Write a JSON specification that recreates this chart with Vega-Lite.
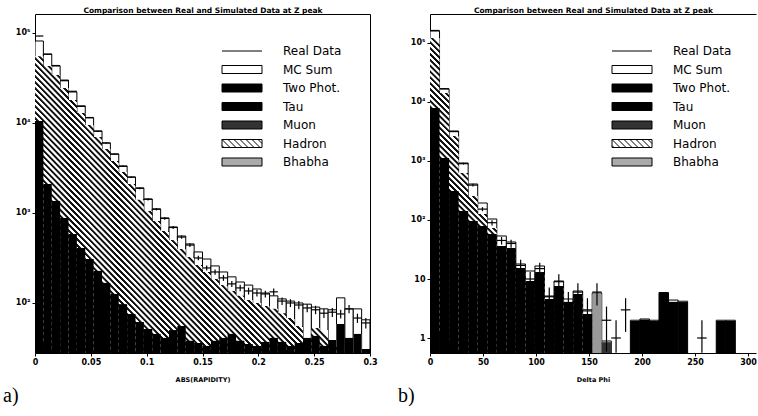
{
"$schema": "https://vega.github.io/schema/vega-lite/v6.json",
"background": "white",
"padding": {"left": 3, "top": 6, "right": 0, "bottom": 0},
"bounds": "flush",
"spacing": 60,
"datasets": {
"a_bins": [
{"x0":0,"x1":0.0075,"mc":81500,"blk":10500,"d":92600,"lo":92300,"hi":92900},
{"x0":0.0075,"x1":0.015,"mc":58400,"blk":2100,"d":58000,"lo":57760,"hi":58240},
{"x0":0.015,"x1":0.0225,"mc":43000,"blk":1360,"d":43500,"lo":43290,"hi":43710},
{"x0":0.0225,"x1":0.03,"mc":30000,"blk":880,"d":29500,"lo":29330,"hi":29670},
{"x0":0.03,"x1":0.0375,"mc":22100,"blk":584,"d":22500,"lo":22350,"hi":22650},
{"x0":0.0375,"x1":0.045,"mc":15500,"blk":409,"d":15300,"lo":15180,"hi":15420},
{"x0":0.045,"x1":0.0525,"mc":11400,"blk":308,"d":11500,"lo":11390,"hi":11610},
{"x0":0.0525,"x1":0.06,"mc":8150,"blk":227,"d":8100,"lo":8010,"hi":8190},
{"x0":0.06,"x1":0.0675,"mc":5990,"blk":167,"d":6000,"lo":5920,"hi":6080},
{"x0":0.0675,"x1":0.075,"mc":4530,"blk":126,"d":4500,"lo":4430,"hi":4570},
{"x0":0.075,"x1":0.0825,"mc":3330,"blk":97,"d":3300,"lo":3240,"hi":3360},
{"x0":0.0825,"x1":0.09,"mc":2510,"blk":75.5,"d":2500,"lo":2450,"hi":2550},
{"x0":0.09,"x1":0.0975,"mc":1900,"blk":61.5,"d":1880,"lo":1840,"hi":1920},
{"x0":0.0975,"x1":0.105,"mc":1430,"blk":51.4,"d":1420,"lo":1380,"hi":1460},
{"x0":0.105,"x1":0.1125,"mc":1110,"blk":45.3,"d":1100,"lo":1070,"hi":1130},
{"x0":0.1125,"x1":0.12,"mc":880,"blk":40.9,"d":870,"lo":840,"hi":900},
{"x0":0.12,"x1":0.1275,"mc":699,"blk":50,"d":690,"lo":664,"hi":716},
{"x0":0.1275,"x1":0.135,"mc":555,"blk":55.5,"d":540,"lo":517,"hi":563},
{"x0":0.135,"x1":0.1425,"mc":453,"blk":38,"d":440,"lo":419,"hi":461},
{"x0":0.1425,"x1":0.15,"mc":369,"blk":35.9,"d":316,"lo":298,"hi":334},
{"x0":0.15,"x1":0.1575,"mc":308,"blk":33.3,"d":245,"lo":229,"hi":261},
{"x0":0.1575,"x1":0.165,"mc":258,"blk":38,"d":221,"lo":206,"hi":236},
{"x0":0.165,"x1":0.1725,"mc":221,"blk":40.9,"d":190,"lo":176,"hi":204},
{"x0":0.1725,"x1":0.18,"mc":195,"blk":45.3,"d":163,"lo":150,"hi":176},
{"x0":0.18,"x1":0.1875,"mc":171,"blk":38,"d":147,"lo":135,"hi":159},
{"x0":0.1875,"x1":0.195,"mc":158,"blk":35,"d":136,"lo":124,"hi":148},
{"x0":0.195,"x1":0.2025,"mc":143,"blk":33.3,"d":129,"lo":118,"hi":140},
{"x0":0.2025,"x1":0.21,"mc":129,"blk":36.9,"d":126,"lo":115,"hi":137},
{"x0":0.21,"x1":0.2175,"mc":120,"blk":40.9,"d":133,"lo":121,"hi":145},
{"x0":0.2175,"x1":0.225,"mc":111,"blk":36.9,"d":105,"lo":95,"hi":115},
{"x0":0.225,"x1":0.2325,"mc":105,"blk":33.3,"d":100,"lo":90,"hi":110},
{"x0":0.2325,"x1":0.24,"mc":100,"blk":35.9,"d":95,"lo":85,"hi":105},
{"x0":0.24,"x1":0.2475,"mc":97,"blk":40.9,"d":88,"lo":79,"hi":97},
{"x0":0.2475,"x1":0.255,"mc":90,"blk":43,"d":84,"lo":75,"hi":93},
{"x0":0.255,"x1":0.2625,"mc":86,"blk":33.3,"d":77,"lo":68,"hi":86},
{"x0":0.2625,"x1":0.27,"mc":84,"blk":38.8,"d":79,"lo":70,"hi":88},
{"x0":0.27,"x1":0.2775,"mc":114,"blk":58.4,"d":75.5,"lo":67,"hi":84},
{"x0":0.2775,"x1":0.285,"mc":86,"blk":40.9,"d":86,"lo":77,"hi":95},
{"x0":0.285,"x1":0.2925,"mc":86,"blk":45.3,"d":68,"lo":60,"hi":76},
{"x0":0.2925,"x1":0.3,"mc":65,"blk":30.8,"d":60,"lo":52,"hi":68}
],
"a_hatch": [
{"x":0,"had":55000},{"x":0.0075,"had":43000},{"x":0.015,"had":34100},{"x":0.0225,"had":24500},
{"x":0.03,"had":18000},{"x":0.0375,"had":12900},{"x":0.045,"had":9500},{"x":0.0525,"had":6990},
{"x":0.06,"had":5140},{"x":0.0675,"had":3790},{"x":0.075,"had":2850},{"x":0.0825,"had":2100},
{"x":0.09,"had":1400},{"x":0.0975,"had":1050},{"x":0.105,"had":815},{"x":0.1125,"had":631},
{"x":0.12,"had":501},{"x":0.1275,"had":398},{"x":0.135,"had":324},{"x":0.1425,"had":264},
{"x":0.15,"had":221},{"x":0.1575,"had":185},{"x":0.165,"had":158},{"x":0.1725,"had":136},
{"x":0.18,"had":120},{"x":0.1875,"had":108},{"x":0.195,"had":100},{"x":0.2025,"had":92.6},
{"x":0.21,"had":86},{"x":0.2175,"had":77},{"x":0.225,"had":68},{"x":0.2325,"had":55.5},
{"x":0.24,"had":38},{"x":0.2475,"had":52.7},{"x":0.255,"had":50},{"x":0.2625,"had":38.8},
{"x":0.27,"had":58.4},{"x":0.2775,"had":40.9},{"x":0.285,"had":45.3},{"x":0.2925,"had":30.8},
{"x":0.3,"had":30.8}
],
"b_bins": [
{"x0":0,"x1":9,"mc":159700,"blk":7913,"d":163000,"lo":162600,"hi":163400},
{"x0":9,"x1":18,"mc":16610,"blk":1124,"d":16800,"lo":16670,"hi":16930},
{"x0":18,"x1":27,"mc":3225,"blk":310,"d":3150,"lo":3094,"hi":3206},
{"x0":27,"x1":36,"mc":925,"blk":142,"d":900,"lo":870,"hi":930},
{"x0":36,"x1":45,"mc":407.6,"blk":96.2,"d":390,"lo":370,"hi":410},
{"x0":45,"x1":54,"mc":194.1,"blk":79.1,"d":153,"lo":141,"hi":165},
{"x0":54,"x1":63,"mc":104,"blk":57.9,"d":90,"lo":80.5,"hi":99.5},
{"x0":63,"x1":72,"mc":53.6,"blk":36.2,"d":45,"lo":38.3,"hi":51.7},
{"x0":72,"x1":81,"mc":42.4,"blk":33.5,"d":40,"lo":33.7,"hi":46.3},
{"x0":81,"x1":90,"mc":17.96,"blk":15.4,"d":17,"lo":12.9,"hi":21.1},
{"x0":90,"x1":99,"mc":13.67,"blk":9.25,"d":10,"lo":6.8,"hi":13.2},
{"x0":99,"x1":108,"mc":16.61,"blk":13.1,"d":15,"lo":11.1,"hi":18.9},
{"x0":108,"x1":117,"mc":5.15,"blk":4.58,"d":5,"lo":2.8,"hi":7.2},
{"x0":117,"x1":126,"mc":9.25,"blk":7.61,"d":9,"lo":6,"hi":12},
{"x0":126,"x1":135,"mc":4.58,"blk":4.07,"d":4,"lo":2,"hi":6},
{"x0":135,"x1":144,"mc":6.26,"blk":5.57,"d":6,"lo":3.55,"hi":8.45},
{"x0":144,"x1":153,"mc":2.87,"blk":2.55,"d":3,"lo":1.27,"hi":4.73},
{"x0":153,"x1":162,"mc":5.79,"bha":5.6,"d":6,"lo":3.55,"hi":8.45},
{"x0":162,"x1":171,"mc":0.89,"muo":0.85,"d":2,"lo":0.59,"hi":3.41},
{"x0":171,"x1":180,"d":1,"lo":0.56,"hi":2},
{"x0":180,"x1":189,"d":3,"lo":1.27,"hi":4.73},
{"x0":189,"x1":198,"mc":2.0,"blk":1.94},
{"x0":198,"x1":207,"mc":2.1,"blk":2.05},
{"x0":207,"x1":216,"mc":2.0,"blk":1.94},
{"x0":216,"x1":225,"mc":5.9,"blk":5.79},
{"x0":225,"x1":234,"mc":4.4,"blk":4.1},
{"x0":234,"x1":243,"mc":4.2,"blk":4.07},
{"x0":252,"x1":261,"d":1,"lo":0.56,"hi":2},
{"x0":270,"x1":279,"mc":2.0,"blk":1.94},
{"x0":279,"x1":288,"mc":2.0,"blk":1.94}
],
"b_hatch": [
{"x":0,"had":121500},{"x":9,"had":14210},{"x":18,"had":2653},{"x":27,"had":626},
{"x":36,"had":255},{"x":45,"had":126.4},{"x":54,"had":73.2},{"x":63,"had":36.2},
{"x":72,"had":33.5},{"x":81,"had":15.4},{"x":90,"had":9.25},{"x":99,"had":13.1},
{"x":108,"had":4.58},{"x":117,"had":7.61},{"x":126,"had":4.07},{"x":135,"had":5.57},
{"x":144,"had":2.55},{"x":153,"had":2.55}
],
"legend_rows": [{"s":"Real Data"}]
},
"hconcat": [
{
"width": 335, "height": 339,
"title": {"text": "a)", "orient": "bottom", "anchor": "start", "frame": "group", "dx": -32, "offset": 3},
"resolve": {"axis": {"x": "independent", "y": "independent"}},
"layer": [
{"data": {"name": "a_bins"},
 "mark": {"type": "bar", "fill": "#fff", "stroke": "#000", "strokeWidth": 1, "clip": true},
 "encoding": {
  "x": {"field": "x0", "type": "quantitative", "scale": {"domain": [0, 0.3], "nice": false, "zero": false},
        "axis": {"orient": "bottom", "values": [0, 0.05, 0.1, 0.15, 0.2, 0.25, 0.3], "format": "~g", "title": "ABS(RAPIDITY)", "titlePadding": 10, "labelFlush": false, "labelOverlap": false}},
  "x2": {"field": "x1"},
  "y": {"field": "mc", "type": "quantitative", "scale": {"type": "log", "domain": [27.8, 162600], "nice": false},
        "axis": {"orient": "left", "values": [100, 1000, 10000, 100000], "title": null,
                 "labelExpr": "datum.value >= 99999 ? '10⁵' : datum.value >= 9999 ? '10⁴' : datum.value >= 999 ? '10³' : datum.value >= 99 ? '10²' : datum.value >= 9 ? '10' : '1'"}},
  "y2": {"datum": 27.8}
 }},
{"data": {"name": "a_hatch"},
 "mark": {"type": "area", "interpolate": "step-after", "clip": true,
  "fill": {"gradient": "linear", "x1": 0.03, "y1": 0.974, "x2": 0.53, "y2": 0.541, "stops": [
{"offset":0,"color":"#111"},{"offset":0.007,"color":"#111"},{"offset":0.01,"color":"#fff"},{"offset":0.018,"color":"#fff"},
{"offset":0.02,"color":"#111"},{"offset":0.027,"color":"#111"},{"offset":0.03,"color":"#fff"},{"offset":0.038,"color":"#fff"},
{"offset":0.04,"color":"#111"},{"offset":0.047,"color":"#111"},{"offset":0.05,"color":"#fff"},{"offset":0.058,"color":"#fff"},
{"offset":0.06,"color":"#111"},{"offset":0.067,"color":"#111"},{"offset":0.07,"color":"#fff"},{"offset":0.078,"color":"#fff"},
{"offset":0.08,"color":"#111"},{"offset":0.087,"color":"#111"},{"offset":0.09,"color":"#fff"},{"offset":0.098,"color":"#fff"},
{"offset":0.1,"color":"#111"},{"offset":0.107,"color":"#111"},{"offset":0.11,"color":"#fff"},{"offset":0.118,"color":"#fff"},
{"offset":0.12,"color":"#111"},{"offset":0.127,"color":"#111"},{"offset":0.13,"color":"#fff"},{"offset":0.138,"color":"#fff"},
{"offset":0.14,"color":"#111"},{"offset":0.147,"color":"#111"},{"offset":0.15,"color":"#fff"},{"offset":0.158,"color":"#fff"},
{"offset":0.16,"color":"#111"},{"offset":0.167,"color":"#111"},{"offset":0.17,"color":"#fff"},{"offset":0.178,"color":"#fff"},
{"offset":0.18,"color":"#111"},{"offset":0.187,"color":"#111"},{"offset":0.19,"color":"#fff"},{"offset":0.198,"color":"#fff"},
{"offset":0.2,"color":"#111"},{"offset":0.207,"color":"#111"},{"offset":0.21,"color":"#fff"},{"offset":0.218,"color":"#fff"},
{"offset":0.22,"color":"#111"},{"offset":0.227,"color":"#111"},{"offset":0.23,"color":"#fff"},{"offset":0.238,"color":"#fff"},
{"offset":0.24,"color":"#111"},{"offset":0.247,"color":"#111"},{"offset":0.25,"color":"#fff"},{"offset":0.258,"color":"#fff"},
{"offset":0.26,"color":"#111"},{"offset":0.267,"color":"#111"},{"offset":0.27,"color":"#fff"},{"offset":0.278,"color":"#fff"},
{"offset":0.28,"color":"#111"},{"offset":0.287,"color":"#111"},{"offset":0.29,"color":"#fff"},{"offset":0.298,"color":"#fff"},
{"offset":0.3,"color":"#111"},{"offset":0.307,"color":"#111"},{"offset":0.31,"color":"#fff"},{"offset":0.318,"color":"#fff"},
{"offset":0.32,"color":"#111"},{"offset":0.327,"color":"#111"},{"offset":0.33,"color":"#fff"},{"offset":0.338,"color":"#fff"},
{"offset":0.34,"color":"#111"},{"offset":0.347,"color":"#111"},{"offset":0.35,"color":"#fff"},{"offset":0.358,"color":"#fff"},
{"offset":0.36,"color":"#111"},{"offset":0.367,"color":"#111"},{"offset":0.37,"color":"#fff"},{"offset":0.378,"color":"#fff"},
{"offset":0.38,"color":"#111"},{"offset":0.387,"color":"#111"},{"offset":0.39,"color":"#fff"},{"offset":0.398,"color":"#fff"},
{"offset":0.4,"color":"#111"},{"offset":0.407,"color":"#111"},{"offset":0.41,"color":"#fff"},{"offset":0.418,"color":"#fff"},
{"offset":0.42,"color":"#111"},{"offset":0.427,"color":"#111"},{"offset":0.43,"color":"#fff"},{"offset":0.438,"color":"#fff"},
{"offset":0.44,"color":"#111"},{"offset":0.447,"color":"#111"},{"offset":0.45,"color":"#fff"},{"offset":0.458,"color":"#fff"},
{"offset":0.46,"color":"#111"},{"offset":0.467,"color":"#111"},{"offset":0.47,"color":"#fff"},{"offset":0.478,"color":"#fff"},
{"offset":0.48,"color":"#111"},{"offset":0.487,"color":"#111"},{"offset":0.49,"color":"#fff"},{"offset":0.498,"color":"#fff"},
{"offset":0.5,"color":"#111"},{"offset":0.507,"color":"#111"},{"offset":0.51,"color":"#fff"},{"offset":0.518,"color":"#fff"},
{"offset":0.52,"color":"#111"},{"offset":0.527,"color":"#111"},{"offset":0.53,"color":"#fff"},{"offset":0.538,"color":"#fff"},
{"offset":0.54,"color":"#111"},{"offset":0.547,"color":"#111"},{"offset":0.55,"color":"#fff"},{"offset":0.558,"color":"#fff"},
{"offset":0.56,"color":"#111"},{"offset":0.567,"color":"#111"},{"offset":0.57,"color":"#fff"},{"offset":0.578,"color":"#fff"},
{"offset":0.58,"color":"#111"},{"offset":0.587,"color":"#111"},{"offset":0.59,"color":"#fff"},{"offset":0.598,"color":"#fff"},
{"offset":0.6,"color":"#111"},{"offset":0.607,"color":"#111"},{"offset":0.61,"color":"#fff"},{"offset":0.618,"color":"#fff"},
{"offset":0.62,"color":"#111"},{"offset":0.627,"color":"#111"},{"offset":0.63,"color":"#fff"},{"offset":0.638,"color":"#fff"},
{"offset":0.64,"color":"#111"},{"offset":0.647,"color":"#111"},{"offset":0.65,"color":"#fff"},{"offset":0.658,"color":"#fff"},
{"offset":0.66,"color":"#111"},{"offset":0.667,"color":"#111"},{"offset":0.67,"color":"#fff"},{"offset":0.678,"color":"#fff"},
{"offset":0.68,"color":"#111"},{"offset":0.687,"color":"#111"},{"offset":0.69,"color":"#fff"},{"offset":0.698,"color":"#fff"},
{"offset":0.7,"color":"#111"},{"offset":0.707,"color":"#111"},{"offset":0.71,"color":"#fff"},{"offset":0.718,"color":"#fff"},
{"offset":0.72,"color":"#111"},{"offset":0.727,"color":"#111"},{"offset":0.73,"color":"#fff"},{"offset":0.738,"color":"#fff"},
{"offset":0.74,"color":"#111"},{"offset":0.747,"color":"#111"},{"offset":0.75,"color":"#fff"},{"offset":0.758,"color":"#fff"},
{"offset":0.76,"color":"#111"},{"offset":0.767,"color":"#111"},{"offset":0.77,"color":"#fff"},{"offset":0.778,"color":"#fff"},
{"offset":0.78,"color":"#111"},{"offset":0.787,"color":"#111"},{"offset":0.79,"color":"#fff"},{"offset":0.798,"color":"#fff"},
{"offset":0.8,"color":"#111"},{"offset":0.807,"color":"#111"},{"offset":0.81,"color":"#fff"},{"offset":0.818,"color":"#fff"},
{"offset":0.82,"color":"#111"},{"offset":0.827,"color":"#111"},{"offset":0.83,"color":"#fff"},{"offset":0.838,"color":"#fff"},
{"offset":0.84,"color":"#111"},{"offset":0.847,"color":"#111"},{"offset":0.85,"color":"#fff"},{"offset":0.858,"color":"#fff"},
{"offset":0.86,"color":"#111"},{"offset":0.867,"color":"#111"},{"offset":0.87,"color":"#fff"},{"offset":0.878,"color":"#fff"},
{"offset":0.88,"color":"#111"},{"offset":0.887,"color":"#111"},{"offset":0.89,"color":"#fff"},{"offset":0.898,"color":"#fff"},
{"offset":0.9,"color":"#111"},{"offset":0.907,"color":"#111"},{"offset":0.91,"color":"#fff"},{"offset":0.918,"color":"#fff"},
{"offset":0.92,"color":"#111"},{"offset":0.927,"color":"#111"},{"offset":0.93,"color":"#fff"},{"offset":0.938,"color":"#fff"},
{"offset":0.94,"color":"#111"},{"offset":0.947,"color":"#111"},{"offset":0.95,"color":"#fff"},{"offset":0.958,"color":"#fff"},
{"offset":0.96,"color":"#111"},{"offset":0.967,"color":"#111"},{"offset":0.97,"color":"#fff"},{"offset":0.978,"color":"#fff"},
{"offset":0.98,"color":"#111"},{"offset":0.987,"color":"#111"},{"offset":0.99,"color":"#fff"},{"offset":1,"color":"#fff"}
  ]}},
 "encoding": {
  "x": {"field": "x", "type": "quantitative", "scale": {"domain": [0, 0.3], "nice": false, "zero": false},
        "axis": {"orient": "top", "labels": false, "ticks": false, "title": "Comparison between Real and Simulated Data at Z peak", "titleFontSize": 7.5, "titlePadding": 0}},
  "y": {"field": "had", "type": "quantitative", "axis": {"orient": "right", "labels": false, "ticks": false, "title": null}},
  "y2": {"datum": 27.8}
 }},
{"data": {"name": "a_bins"},
 "mark": {"type": "bar", "fill": "#000", "clip": true},
 "encoding": {
  "x": {"field": "x0", "type": "quantitative", "axis": null},
  "x2": {"field": "x1"},
  "y": {"field": "blk", "type": "quantitative", "axis": null},
  "y2": {"datum": 27.8}
 }},
{"data": {"name": "a_bins"},
 "mark": {"type": "rule", "stroke": "#000", "strokeWidth": 1.2, "clip": true},
 "encoding": {
  "x": {"field": "x0", "type": "quantitative", "axis": null},
  "x2": {"field": "x1"},
  "y": {"field": "d", "type": "quantitative", "axis": null}
 }},
{"data": {"name": "a_bins"},
 "mark": {"type": "rule", "stroke": "#000", "strokeWidth": 1.2, "xOffset": 4.19, "clip": true},
 "encoding": {
  "x": {"field": "x0", "type": "quantitative", "axis": null},
  "y": {"field": "lo", "type": "quantitative", "axis": null},
  "y2": {"field": "hi"}
 }},
{"data": {"name": "legend_rows"},
 "transform": [{"filter": "false"}],
 "mark": {"type": "point", "filled": true, "size": 64, "opacity": 1, "strokeWidth": 1},
 "encoding": {
  "fill": {"field": "s", "type": "nominal",
   "scale": {"domain": ["Real Data", "MC Sum", "Two Phot.", "Tau", "Muon", "Hadron", "Bhabha"],
             "range": ["transparent", "#fff", "#000", "#000", "#333", "#fff", "#aaa"]},
   "legend": {"orient": "none", "legendX": 201, "legendY": 31, "title": null}},
  "stroke": {"field": "s", "type": "nominal",
   "scale": {"domain": ["Real Data", "MC Sum", "Two Phot.", "Tau", "Muon", "Hadron", "Bhabha"],
             "range": ["#000", "#000", "#000", "#000", "#000", "#000", "#000"]},
   "legend": {"orient": "none", "legendX": 201, "legendY": 31, "title": null}},
  "shape": {"field": "s", "type": "nominal",
   "scale": {"domain": ["Real Data", "MC Sum", "Two Phot.", "Tau", "Muon", "Hadron", "Bhabha"],
             "range": ["M-5,0H5", "M-5,-1H5V1H-5Z", "M-5,-1H5V1H-5Z", "M-5,-1H5V1H-5Z", "M-5,-1H5V1H-5Z",
                       "M-5,-1H5V1H-5Z M-5,0.5L-4.5,1 M-5,-1L-3,1 M-3.5,-1L-1.5,1 M-2,-1L0,1 M-0.5,-1L1.5,1 M1,-1L3,1 M2.5,-1L4.5,1 M4,-1L5,0",
                       "M-5,-1H5V1H-5Z"]},
   "legend": {"orient": "none", "legendX": 201, "legendY": 31, "title": null}}
 }}
]
},
{
"width": 326, "height": 339,
"title": {"text": "b)", "orient": "bottom", "anchor": "start", "frame": "group", "dx": -32, "offset": 3},
"resolve": {"axis": {"x": "independent", "y": "independent"}},
"layer": [
{"data": {"name": "b_bins"},
 "mark": {"type": "bar", "fill": "#fff", "stroke": "#000", "strokeWidth": 1, "clip": true},
 "encoding": {
  "x": {"field": "x0", "type": "quantitative", "scale": {"domain": [0, 307.5], "nice": false, "zero": false},
        "axis": {"orient": "bottom", "values": [0, 50, 100, 150, 200, 250, 300], "format": "d", "title": "Delta Phi", "titlePadding": 10, "labelFlush": false, "labelOverlap": false}},
  "x2": {"field": "x1"},
  "y": {"field": "mc", "type": "quantitative", "scale": {"type": "log", "domain": [0.557, 310000], "nice": false},
        "axis": {"orient": "left", "values": [1, 10, 100, 1000, 10000, 100000], "title": null,
                 "labelExpr": "datum.value >= 99999 ? '10⁵' : datum.value >= 9999 ? '10⁴' : datum.value >= 999 ? '10³' : datum.value >= 99 ? '10²' : datum.value >= 9 ? '10' : '1'"}},
  "y2": {"datum": 0.557}
 }},
{"data": {"name": "b_hatch"},
 "mark": {"type": "area", "interpolate": "step-after", "clip": true,
  "fill": {"gradient": "linear", "x1": 0.038, "y1": 0.927, "x2": 0.415, "y2": 0.193, "stops": [
{"offset":0,"color":"#111"},{"offset":0.007,"color":"#111"},{"offset":0.01,"color":"#fff"},{"offset":0.018,"color":"#fff"},
{"offset":0.02,"color":"#111"},{"offset":0.027,"color":"#111"},{"offset":0.03,"color":"#fff"},{"offset":0.038,"color":"#fff"},
{"offset":0.04,"color":"#111"},{"offset":0.047,"color":"#111"},{"offset":0.05,"color":"#fff"},{"offset":0.058,"color":"#fff"},
{"offset":0.06,"color":"#111"},{"offset":0.067,"color":"#111"},{"offset":0.07,"color":"#fff"},{"offset":0.078,"color":"#fff"},
{"offset":0.08,"color":"#111"},{"offset":0.087,"color":"#111"},{"offset":0.09,"color":"#fff"},{"offset":0.098,"color":"#fff"},
{"offset":0.1,"color":"#111"},{"offset":0.107,"color":"#111"},{"offset":0.11,"color":"#fff"},{"offset":0.118,"color":"#fff"},
{"offset":0.12,"color":"#111"},{"offset":0.127,"color":"#111"},{"offset":0.13,"color":"#fff"},{"offset":0.138,"color":"#fff"},
{"offset":0.14,"color":"#111"},{"offset":0.147,"color":"#111"},{"offset":0.15,"color":"#fff"},{"offset":0.158,"color":"#fff"},
{"offset":0.16,"color":"#111"},{"offset":0.167,"color":"#111"},{"offset":0.17,"color":"#fff"},{"offset":0.178,"color":"#fff"},
{"offset":0.18,"color":"#111"},{"offset":0.187,"color":"#111"},{"offset":0.19,"color":"#fff"},{"offset":0.198,"color":"#fff"},
{"offset":0.2,"color":"#111"},{"offset":0.207,"color":"#111"},{"offset":0.21,"color":"#fff"},{"offset":0.218,"color":"#fff"},
{"offset":0.22,"color":"#111"},{"offset":0.227,"color":"#111"},{"offset":0.23,"color":"#fff"},{"offset":0.238,"color":"#fff"},
{"offset":0.24,"color":"#111"},{"offset":0.247,"color":"#111"},{"offset":0.25,"color":"#fff"},{"offset":0.258,"color":"#fff"},
{"offset":0.26,"color":"#111"},{"offset":0.267,"color":"#111"},{"offset":0.27,"color":"#fff"},{"offset":0.278,"color":"#fff"},
{"offset":0.28,"color":"#111"},{"offset":0.287,"color":"#111"},{"offset":0.29,"color":"#fff"},{"offset":0.298,"color":"#fff"},
{"offset":0.3,"color":"#111"},{"offset":0.307,"color":"#111"},{"offset":0.31,"color":"#fff"},{"offset":0.318,"color":"#fff"},
{"offset":0.32,"color":"#111"},{"offset":0.327,"color":"#111"},{"offset":0.33,"color":"#fff"},{"offset":0.338,"color":"#fff"},
{"offset":0.34,"color":"#111"},{"offset":0.347,"color":"#111"},{"offset":0.35,"color":"#fff"},{"offset":0.358,"color":"#fff"},
{"offset":0.36,"color":"#111"},{"offset":0.367,"color":"#111"},{"offset":0.37,"color":"#fff"},{"offset":0.378,"color":"#fff"},
{"offset":0.38,"color":"#111"},{"offset":0.387,"color":"#111"},{"offset":0.39,"color":"#fff"},{"offset":0.398,"color":"#fff"},
{"offset":0.4,"color":"#111"},{"offset":0.407,"color":"#111"},{"offset":0.41,"color":"#fff"},{"offset":0.418,"color":"#fff"},
{"offset":0.42,"color":"#111"},{"offset":0.427,"color":"#111"},{"offset":0.43,"color":"#fff"},{"offset":0.438,"color":"#fff"},
{"offset":0.44,"color":"#111"},{"offset":0.447,"color":"#111"},{"offset":0.45,"color":"#fff"},{"offset":0.458,"color":"#fff"},
{"offset":0.46,"color":"#111"},{"offset":0.467,"color":"#111"},{"offset":0.47,"color":"#fff"},{"offset":0.478,"color":"#fff"},
{"offset":0.48,"color":"#111"},{"offset":0.487,"color":"#111"},{"offset":0.49,"color":"#fff"},{"offset":0.498,"color":"#fff"},
{"offset":0.5,"color":"#111"},{"offset":0.507,"color":"#111"},{"offset":0.51,"color":"#fff"},{"offset":0.518,"color":"#fff"},
{"offset":0.52,"color":"#111"},{"offset":0.527,"color":"#111"},{"offset":0.53,"color":"#fff"},{"offset":0.538,"color":"#fff"},
{"offset":0.54,"color":"#111"},{"offset":0.547,"color":"#111"},{"offset":0.55,"color":"#fff"},{"offset":0.558,"color":"#fff"},
{"offset":0.56,"color":"#111"},{"offset":0.567,"color":"#111"},{"offset":0.57,"color":"#fff"},{"offset":0.578,"color":"#fff"},
{"offset":0.58,"color":"#111"},{"offset":0.587,"color":"#111"},{"offset":0.59,"color":"#fff"},{"offset":0.598,"color":"#fff"},
{"offset":0.6,"color":"#111"},{"offset":0.607,"color":"#111"},{"offset":0.61,"color":"#fff"},{"offset":0.618,"color":"#fff"},
{"offset":0.62,"color":"#111"},{"offset":0.627,"color":"#111"},{"offset":0.63,"color":"#fff"},{"offset":0.638,"color":"#fff"},
{"offset":0.64,"color":"#111"},{"offset":0.647,"color":"#111"},{"offset":0.65,"color":"#fff"},{"offset":0.658,"color":"#fff"},
{"offset":0.66,"color":"#111"},{"offset":0.667,"color":"#111"},{"offset":0.67,"color":"#fff"},{"offset":0.678,"color":"#fff"},
{"offset":0.68,"color":"#111"},{"offset":0.687,"color":"#111"},{"offset":0.69,"color":"#fff"},{"offset":0.698,"color":"#fff"},
{"offset":0.7,"color":"#111"},{"offset":0.707,"color":"#111"},{"offset":0.71,"color":"#fff"},{"offset":0.718,"color":"#fff"},
{"offset":0.72,"color":"#111"},{"offset":0.727,"color":"#111"},{"offset":0.73,"color":"#fff"},{"offset":0.738,"color":"#fff"},
{"offset":0.74,"color":"#111"},{"offset":0.747,"color":"#111"},{"offset":0.75,"color":"#fff"},{"offset":0.758,"color":"#fff"},
{"offset":0.76,"color":"#111"},{"offset":0.767,"color":"#111"},{"offset":0.77,"color":"#fff"},{"offset":0.778,"color":"#fff"},
{"offset":0.78,"color":"#111"},{"offset":0.787,"color":"#111"},{"offset":0.79,"color":"#fff"},{"offset":0.798,"color":"#fff"},
{"offset":0.8,"color":"#111"},{"offset":0.807,"color":"#111"},{"offset":0.81,"color":"#fff"},{"offset":0.818,"color":"#fff"},
{"offset":0.82,"color":"#111"},{"offset":0.827,"color":"#111"},{"offset":0.83,"color":"#fff"},{"offset":0.838,"color":"#fff"},
{"offset":0.84,"color":"#111"},{"offset":0.847,"color":"#111"},{"offset":0.85,"color":"#fff"},{"offset":0.858,"color":"#fff"},
{"offset":0.86,"color":"#111"},{"offset":0.867,"color":"#111"},{"offset":0.87,"color":"#fff"},{"offset":0.878,"color":"#fff"},
{"offset":0.88,"color":"#111"},{"offset":0.887,"color":"#111"},{"offset":0.89,"color":"#fff"},{"offset":0.898,"color":"#fff"},
{"offset":0.9,"color":"#111"},{"offset":0.907,"color":"#111"},{"offset":0.91,"color":"#fff"},{"offset":0.918,"color":"#fff"},
{"offset":0.92,"color":"#111"},{"offset":0.927,"color":"#111"},{"offset":0.93,"color":"#fff"},{"offset":0.938,"color":"#fff"},
{"offset":0.94,"color":"#111"},{"offset":0.947,"color":"#111"},{"offset":0.95,"color":"#fff"},{"offset":0.958,"color":"#fff"},
{"offset":0.96,"color":"#111"},{"offset":0.967,"color":"#111"},{"offset":0.97,"color":"#fff"},{"offset":0.978,"color":"#fff"},
{"offset":0.98,"color":"#111"},{"offset":0.987,"color":"#111"},{"offset":0.99,"color":"#fff"},{"offset":1,"color":"#fff"}
  ]}},
 "encoding": {
  "x": {"field": "x", "type": "quantitative", "scale": {"domain": [0, 307.5], "nice": false, "zero": false},
        "axis": {"orient": "top", "labels": false, "ticks": false, "title": "Comparison between Real and Simulated Data at Z peak", "titleFontSize": 7.5, "titlePadding": 0}},
  "y": {"field": "had", "type": "quantitative", "axis": null},
  "y2": {"datum": 0.557}
 }},
{"data": {"name": "b_bins"},
 "mark": {"type": "bar", "fill": "#999", "clip": true},
 "encoding": {
  "x": {"field": "x0", "type": "quantitative", "axis": null},
  "x2": {"field": "x1"},
  "y": {"field": "bha", "type": "quantitative", "axis": null},
  "y2": {"datum": 0.557}
 }},
{"data": {"name": "b_bins"},
 "mark": {"type": "bar", "fill": "#333", "clip": true},
 "encoding": {
  "x": {"field": "x0", "type": "quantitative", "axis": null},
  "x2": {"field": "x1"},
  "y": {"field": "muo", "type": "quantitative", "axis": null},
  "y2": {"datum": 0.557}
 }},
{"data": {"name": "b_bins"},
 "mark": {"type": "bar", "fill": "#000", "clip": true},
 "encoding": {
  "x": {"field": "x0", "type": "quantitative", "axis": null},
  "x2": {"field": "x1"},
  "y": {"field": "blk", "type": "quantitative", "axis": null},
  "y2": {"datum": 0.557}
 }},
{"data": {"name": "b_bins"},
 "mark": {"type": "rule", "stroke": "#000", "strokeWidth": 1.2, "clip": true},
 "encoding": {
  "x": {"field": "x0", "type": "quantitative", "axis": null},
  "x2": {"field": "x1"},
  "y": {"field": "d", "type": "quantitative", "axis": null}
 }},
{"data": {"name": "b_bins"},
 "mark": {"type": "rule", "stroke": "#000", "strokeWidth": 1.2, "xOffset": 4.77, "clip": true},
 "encoding": {
  "x": {"field": "x0", "type": "quantitative", "axis": null},
  "y": {"field": "lo", "type": "quantitative", "axis": null},
  "y2": {"field": "hi"}
 }},
{"data": {"name": "legend_rows"},
 "transform": [{"filter": "false"}],
 "mark": {"type": "point", "filled": true, "size": 64, "opacity": 1, "strokeWidth": 1},
 "encoding": {
  "fill": {"field": "s", "type": "nominal",
   "scale": {"domain": ["Real Data", "MC Sum", "Two Phot.", "Tau", "Muon", "Hadron", "Bhabha"],
             "range": ["transparent", "#fff", "#000", "#000", "#333", "#fff", "#aaa"]},
   "legend": {"orient": "none", "legendX": 196, "legendY": 31, "title": null}},
  "stroke": {"field": "s", "type": "nominal",
   "scale": {"domain": ["Real Data", "MC Sum", "Two Phot.", "Tau", "Muon", "Hadron", "Bhabha"],
             "range": ["#000", "#000", "#000", "#000", "#000", "#000", "#000"]},
   "legend": {"orient": "none", "legendX": 196, "legendY": 31, "title": null}},
  "shape": {"field": "s", "type": "nominal",
   "scale": {"domain": ["Real Data", "MC Sum", "Two Phot.", "Tau", "Muon", "Hadron", "Bhabha"],
             "range": ["M-5,0H5", "M-5,-1H5V1H-5Z", "M-5,-1H5V1H-5Z", "M-5,-1H5V1H-5Z", "M-5,-1H5V1H-5Z",
                       "M-5,-1H5V1H-5Z M-5,0.5L-4.5,1 M-5,-1L-3,1 M-3.5,-1L-1.5,1 M-2,-1L0,1 M-0.5,-1L1.5,1 M1,-1L3,1 M2.5,-1L4.5,1 M4,-1L5,0",
                       "M-5,-1H5V1H-5Z"]},
   "legend": {"orient": "none", "legendX": 196, "legendY": 31, "title": null}}
 }}
]
}
],
"resolve": {"scale": {"x": "independent", "y": "independent", "fill": "independent", "stroke": "independent", "shape": "independent"},
            "legend": {"fill": "independent", "stroke": "independent", "shape": "independent"}},
"config": {
 "view": {"stroke": null},
 "axis": {"domainColor": "#000", "domainWidth": 1, "tickColor": "#000", "labelColor": "#000", "titleColor": "#000",
          "labelFont": "DejaVu Sans", "labelFontWeight": "bold", "labelFontSize": 8,
          "titleFont": "DejaVu Sans", "titleFontWeight": "bold", "titleFontSize": 6.5,
          "grid": false, "tickSize": 3, "labelPadding": 2, "zindex": 1},
 "legend": {"labelFont": "DejaVu Sans", "labelFontSize": 12, "labelColor": "#000", "rowPadding": 6.5, "labelOffset": 35,
            "symbolSize": 64, "padding": 0, "symbolStrokeColor": "#000", "symbolStrokeWidth": 1, "symbolOpacity": 1, "labelLimit": 0},
 "title": {"font": "Liberation Serif", "fontSize": 20, "fontWeight": "normal", "color": "#000"}
}
}
